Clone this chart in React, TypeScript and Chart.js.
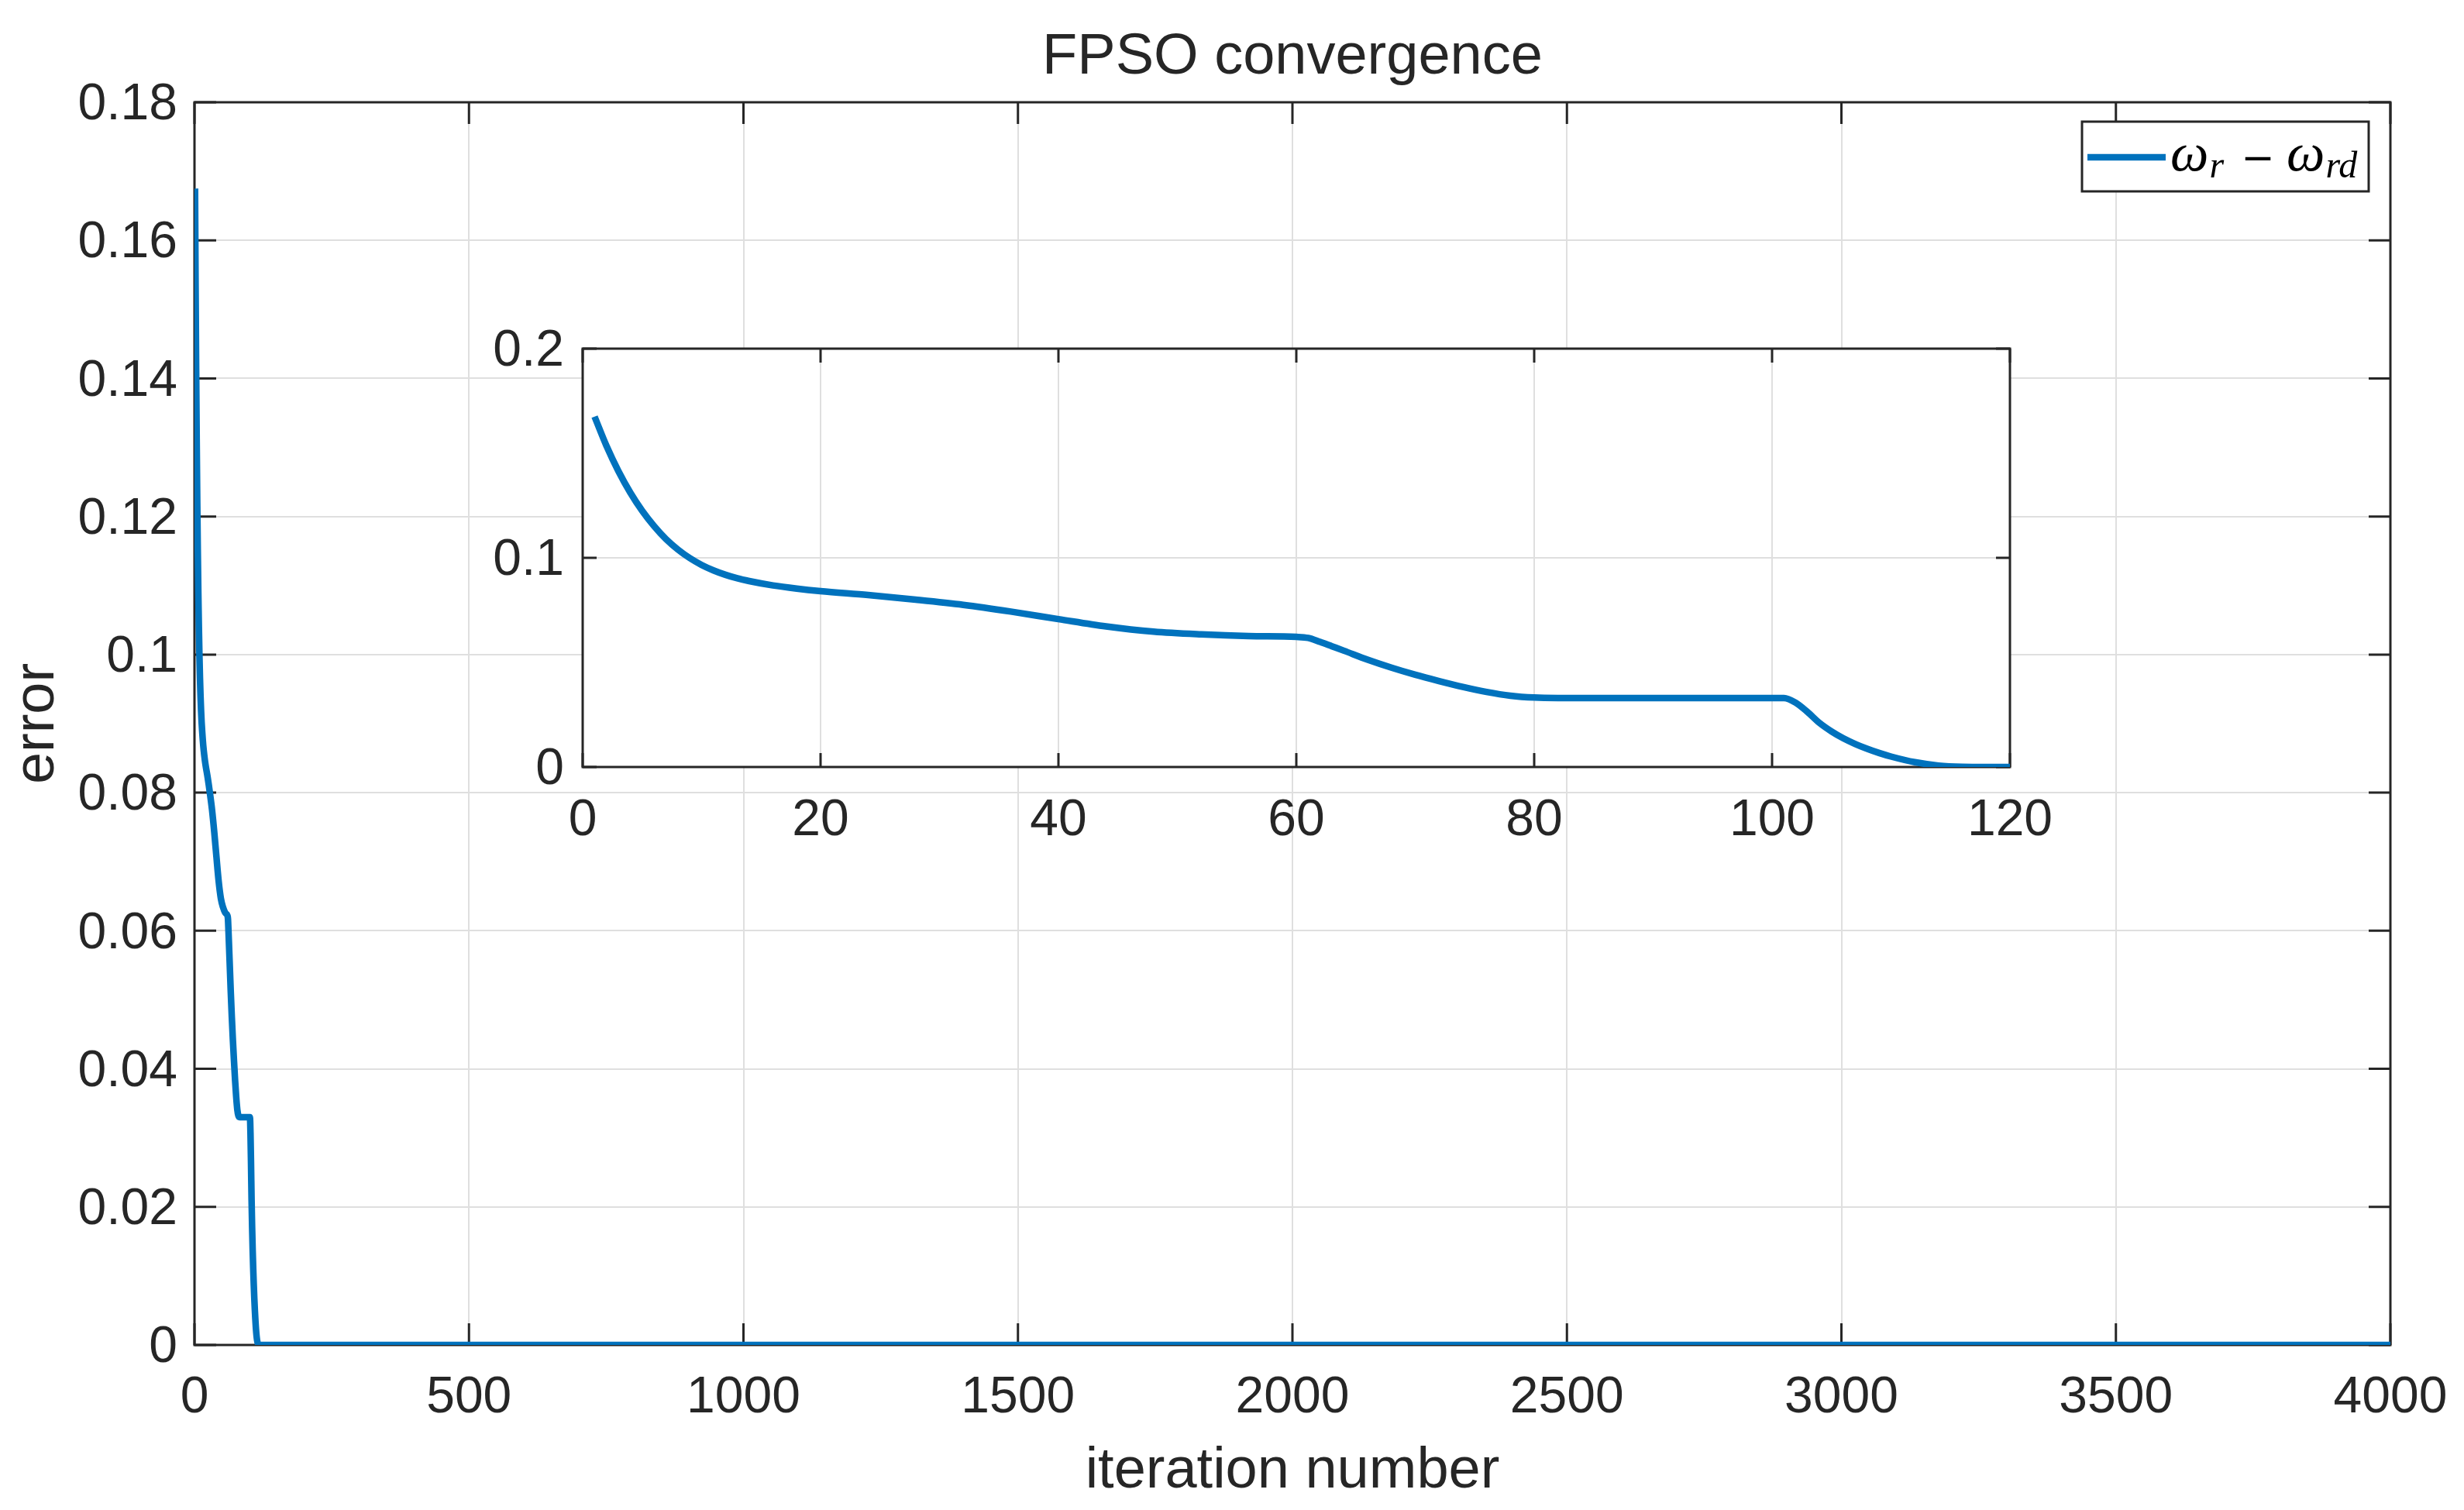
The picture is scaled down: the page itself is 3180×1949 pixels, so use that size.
import React, { useEffect, useRef } from "react";
import { Chart, registerables } from "chart.js";

Chart.register(...registerables);

// ---- data ----
const iterations = [
  1, 2, 3, 4, 5, 6, 7, 8, 9, 10, 11, 12, 13, 14, 16, 18, 20, 24, 28, 32, 36, 40,
  44, 48, 52, 56, 60, 61, 62, 63, 64, 66, 68, 70, 72, 74, 76, 78, 80, 82, 90, 100,
  101, 102, 103, 104, 105, 106, 107, 108, 109, 110, 112, 114, 116, 118, 120, 4000,
];
const errorValues = [
  0.1675, 0.1535, 0.1415, 0.1312, 0.1225, 0.1152, 0.109, 0.104, 0.0999, 0.0966,
  0.094, 0.0919, 0.0902, 0.0889, 0.0868, 0.0853, 0.0841, 0.0822, 0.08, 0.0775,
  0.0743, 0.0707, 0.0672, 0.0647, 0.0634, 0.0626, 0.0622, 0.0617, 0.0598, 0.0577,
  0.0556, 0.0513, 0.0475, 0.0441, 0.0411, 0.0383, 0.0359, 0.0341, 0.0332, 0.033,
  0.033, 0.033, 0.033, 0.0307, 0.0262, 0.021, 0.017, 0.0137, 0.011, 0.0087, 0.0067,
  0.005, 0.0023, 0.0007, 0.0001, 0, 0, 0,
];
const mainXTickValues = [0, 500, 1000, 1500, 2000, 2500, 3000, 3500, 4000];
const mainYTickValues = [0, 0.02, 0.04, 0.06, 0.08, 0.1, 0.12, 0.14, 0.16, 0.18];
const insetXTickValues = [0, 20, 40, 60, 80, 100, 120];
const insetYTickValues = [0, 0.1, 0.2];
const seriesLabel = "ω_r − ω_rd";
const chartTitle = "FPSO convergence";
const xAxisTitle = "iteration number";
const yAxisTitle = "error";

// ---- styles ----
const LINE_COLOR = "#0072BD";
const AXIS_COLOR = "#262626";
const GRID_COLOR = "#dfdfdf";
const SANS = '"Liberation Sans", Arial, Helvetica, sans-serif';
const LINE_WIDTH = 8.5;
const AXIS_WIDTH = 3;

const fmt = (v: number) => String(Number(v.toFixed(4)));

const boxPlugin = (tickLen: number) => ({
  id: "matlabBox",
  beforeDatasetsDraw(chart: any) {
    const { ctx, chartArea: a, scales } = chart;
    const xs = scales.x;
    const ys = scales.y;
    ctx.save();
    ctx.strokeStyle = AXIS_COLOR;
    ctx.lineWidth = AXIS_WIDTH;
    ctx.beginPath();
    ctx.rect(a.left, a.top, a.right - a.left, a.bottom - a.top);
    ctx.stroke();
    ctx.beginPath();
    xs.ticks.forEach((t: any) => {
      const px = xs.getPixelForValue(t.value);
      ctx.moveTo(px, a.bottom);
      ctx.lineTo(px, a.bottom - tickLen);
      ctx.moveTo(px, a.top);
      ctx.lineTo(px, a.top + tickLen);
    });
    ys.ticks.forEach((t: any) => {
      const py = ys.getPixelForValue(t.value);
      ctx.moveTo(a.left, py);
      ctx.lineTo(a.left + tickLen, py);
      ctx.moveTo(a.right, py);
      ctx.lineTo(a.right - tickLen, py);
    });
    ctx.stroke();
    ctx.restore();
  },
});

const whiteAreaPlugin = {
  id: "whiteArea",
  beforeDraw(chart: any) {
    const { ctx, chartArea: a } = chart;
    ctx.save();
    ctx.fillStyle = "#ffffff";
    ctx.fillRect(a.left, a.top, a.right - a.left, a.bottom - a.top);
    ctx.restore();
  },
};

const mathLegendPlugin = {
  id: "mathLegend",
  afterDraw(chart: any) {
    const { ctx, chartArea: a } = chart;
    const w = 370;
    const h = 90;
    const right = a.right - 28;
    const top = a.top + 25;
    const left = right - w;
    ctx.save();
    ctx.fillStyle = "#ffffff";
    ctx.fillRect(left, top, w, h);
    ctx.strokeStyle = AXIS_COLOR;
    ctx.lineWidth = AXIS_WIDTH;
    ctx.strokeRect(left, top, w, h);
    const cy = top + 46;
    ctx.strokeStyle = LINE_COLOR;
    ctx.lineWidth = LINE_WIDTH;
    ctx.beginPath();
    ctx.moveTo(left + 7, cy);
    ctx.lineTo(left + 108, cy);
    ctx.stroke();

    const [lhs, rhs] = seriesLabel.split(" − ");
    const [sym1, sub1] = lhs.split("_");
    const [sym2, sub2] = rhs.split("_");
    const big = 'italic 70px "Liberation Serif", "DejaVu Serif", serif';
    const small = 'italic 48px "Liberation Serif", "DejaVu Serif", serif';
    const base = top + 63;
    ctx.fillStyle = "#000000";
    ctx.textBaseline = "alphabetic";
    ctx.textAlign = "left";
    let x = left + 114;
    ctx.font = big;
    ctx.fillText(sym1, x, base);
    x += ctx.measureText(sym1).width + 1;
    ctx.font = small;
    ctx.fillText(sub1, x, base + 9);
    ctx.font = '52px "DejaVu Sans", sans-serif';
    ctx.textAlign = "center";
    ctx.fillText("−", left + 227, base + 1);
    ctx.textAlign = "left";
    x = left + 264;
    ctx.font = big;
    ctx.fillText(sym2, x, base);
    x += ctx.measureText(sym2).width + 1;
    ctx.font = small;
    ctx.fillText(sub2, x, base + 9);
    ctx.restore();
  },
};

const points = iterations.map((it, i) => ({ x: it, y: errorValues[i] }));

export default function App() {
  const mainRef = useRef<HTMLCanvasElement | null>(null);
  const insetRef = useRef<HTMLCanvasElement | null>(null);

  useEffect(() => {
    const tickFont = { family: SANS, size: 66 };
    const mainChart = new Chart(mainRef.current as HTMLCanvasElement, {
      type: "line",
      data: {
        datasets: [
          {
            label: seriesLabel,
            data: points,
            borderColor: LINE_COLOR,
            borderWidth: LINE_WIDTH,
            pointRadius: 0,
            fill: false,
            cubicInterpolationMode: "monotone",
          },
        ],
      },
      options: {
        animation: false,
        responsive: false,
        devicePixelRatio: 1,
        layout: { padding: { left: 0, top: 0, right: 95, bottom: 0 } },
        plugins: {
          legend: { display: false },
          tooltip: { enabled: false },
          title: {
            display: true,
            fullSize: false,
            text: chartTitle,
            color: AXIS_COLOR,
            font: { family: SANS, size: 74, weight: "normal" },
            padding: { top: 30.6, bottom: 12.6 },
          },
        },
        scales: {
          x: {
            type: "linear",
            min: 0,
            max: 4000,
            afterBuildTicks: (s: any) => {
              s.ticks = mainXTickValues.map((v) => ({ value: v }));
            },
            afterFit: (s: any) => {
              s.height = 213;
              s.paddingLeft = 0;
              s.paddingRight = 0;
            },
            grid: { color: GRID_COLOR, lineWidth: 2, drawTicks: false },
            border: { display: false },
            ticks: {
              color: AXIS_COLOR,
              font: tickFont,
              padding: 29,
              maxRotation: 0,
              autoSkip: false,
              callback: (v: any) => fmt(Number(v)),
            },
            title: {
              display: true,
              text: xAxisTitle,
              color: AXIS_COLOR,
              font: { family: SANS, size: 74 },
              padding: { top: 0, bottom: 4.6 },
            },
          },
          y: {
            type: "linear",
            min: 0,
            max: 0.18,
            afterBuildTicks: (s: any) => {
              s.ticks = mainYTickValues.map((v) => ({ value: v }));
            },
            afterFit: (s: any) => {
              s.width = 251;
              s.paddingTop = 0;
              s.paddingBottom = 0;
            },
            grid: { color: GRID_COLOR, lineWidth: 2, drawTicks: false },
            border: { display: false },
            ticks: {
              color: AXIS_COLOR,
              font: tickFont,
              padding: 22,
              labelOffset: 4,
              autoSkip: false,
              callback: (v: any) => fmt(Number(v)),
            },
            title: {
              display: true,
              text: yAxisTitle,
              color: AXIS_COLOR,
              font: { family: SANS, size: 74 },
              padding: { top: 4, bottom: 0 },
            },
          },
        },
      } as any,
      plugins: [boxPlugin(28), mathLegendPlugin],
    });

    const insetPoints = points.filter((p) => p.x <= 120);
    const insetChart = new Chart(insetRef.current as HTMLCanvasElement, {
      type: "line",
      data: {
        datasets: [
          {
            label: seriesLabel,
            data: insetPoints,
            borderColor: LINE_COLOR,
            borderWidth: LINE_WIDTH,
            pointRadius: 0,
            fill: false,
            cubicInterpolationMode: "monotone",
          },
        ],
      },
      options: {
        animation: false,
        responsive: false,
        devicePixelRatio: 1,
        layout: { padding: { left: 0, top: 70, right: 80, bottom: 0 } },
        plugins: {
          legend: { display: false },
          tooltip: { enabled: false },
          title: { display: false },
        },
        scales: {
          x: {
            type: "linear",
            min: 0,
            max: 120,
            afterBuildTicks: (s: any) => {
              s.ticks = insetXTickValues.map((v) => ({ value: v }));
            },
            afterFit: (s: any) => {
              s.height = 130;
              s.paddingLeft = 0;
              s.paddingRight = 0;
            },
            grid: { color: GRID_COLOR, lineWidth: 2, drawTicks: false },
            border: { display: false },
            ticks: {
              color: AXIS_COLOR,
              font: tickFont,
              padding: 30,
              maxRotation: 0,
              autoSkip: false,
              callback: (v: any) => fmt(Number(v)),
            },
          },
          y: {
            type: "linear",
            min: 0,
            max: 0.2,
            afterBuildTicks: (s: any) => {
              s.ticks = insetYTickValues.map((v) => ({ value: v }));
            },
            afterFit: (s: any) => {
              s.width = 192;
              s.paddingTop = 0;
              s.paddingBottom = 0;
            },
            grid: { color: GRID_COLOR, lineWidth: 2, drawTicks: false },
            border: { display: false },
            ticks: {
              color: AXIS_COLOR,
              font: tickFont,
              padding: 24,
              labelOffset: 4,
              autoSkip: false,
              callback: (v: any) => fmt(Number(v)),
            },
          },
        },
      } as any,
      plugins: [whiteAreaPlugin, boxPlugin(18)],
    });

    return () => {
      mainChart.destroy();
      insetChart.destroy();
    };
  }, []);

  return (
    <div
      style={{
        position: "absolute",
        left: 0,
        top: 0,
        width: 3180,
        height: 1949,
        background: "#ffffff",
        overflow: "hidden",
      }}
    >
      <canvas
        ref={mainRef}
        width={3180}
        height={1949}
        style={{ position: "absolute", left: 0, top: 0, width: 3180, height: 1949, display: "block" }}
      />
      <canvas
        ref={insetRef}
        width={2114}
        height={740}
        style={{ position: "absolute", left: 560, top: 380, width: 2114, height: 740, display: "block" }}
      />
    </div>
  );
}
